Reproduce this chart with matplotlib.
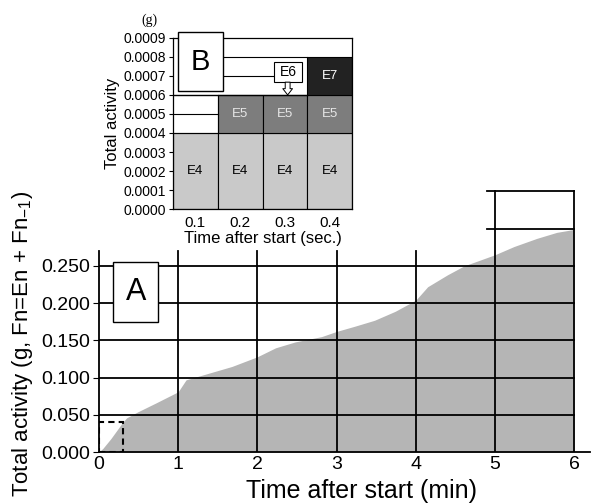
import matplotlib.pyplot as plt
from matplotlib.patches import Rectangle

# panel A: cumulative activity
minutes = [0.0, 0.05, 0.15, 0.30, 0.35, 0.49, 0.72, 1.0, 1.1, 1.39, 1.68, 2.0, 2.23, 2.48,
           2.81, 3.0, 3.23, 3.48, 3.74, 4.0, 4.15, 4.40, 4.61, 5.0, 5.24, 5.53, 5.78, 6.0]
activity = [0.0, 0.005, 0.018, 0.040, 0.046, 0.054, 0.066, 0.081, 0.097, 0.106, 0.115, 0.128,
            0.140, 0.148, 0.155, 0.162, 0.169, 0.177, 0.189, 0.204, 0.222, 0.238, 0.250,
            0.265, 0.276, 0.287, 0.295, 0.299]
main_yticks = [0.0, 0.05, 0.10, 0.15, 0.20, 0.25]
main_xticks = [0, 1, 2, 3, 4, 5, 6]

# panel B: stacked increments per 0.1 s
seconds = [0.1, 0.2, 0.3, 0.4]
e4 = [0.0004, 0.0004, 0.0004, 0.0004]
e5 = [0.0, 0.0002, 0.0002, 0.0002]
e7 = [0.0, 0.0, 0.0, 0.0002]
inset_yticks = [i * 0.0001 for i in range(10)]

fill_grey = "#b5b5b5"
e4_grey = "#c9c9c9"
e5_grey = "#7d7d7d"
e7_grey = "#222222"

plt.rcParams['font.family'] = ['Liberation Sans', 'DejaVu Sans']
fig = plt.figure(figsize=(5.96, 5.04), dpi=100)

# ---------------- panel A ----------------
ax = fig.add_axes([0.166, 0.103, 0.824, 0.532])
ax.set_xlim(0, 6.2)
ax.set_ylim(0, 0.36)
ax.fill_between(minutes, activity, 0, color=fill_grey, lw=0, zorder=1)

for y in main_yticks[1:]:
    ax.plot([0, 6], [y, y], color="black", lw=1.3, zorder=2)
for x in main_xticks[1:]:
    top = 0.35 if x >= 5 else 0.27
    ax.plot([x, x], [0, top], color="black", lw=1.3, zorder=2)
for y in [0.30, 0.35]:
    ax.plot([4.9, 6], [y, y], color="black", lw=1.3, zorder=2)

ax.add_patch(Rectangle((0, 0), 0.31, 0.041, fill=False, ls=(0, (3, 2)), lw=1.5,
                       ec="black", zorder=3))
ax.add_patch(Rectangle((0.18, 0.175), 0.57, 0.08, fc="white", ec="black", lw=1.0,
                       zorder=4))
ax.text(0.465, 0.215, "A", fontsize=22, ha="center", va="center", zorder=5)

for s in ["top", "right"]:
    ax.spines[s].set_visible(False)
ax.spines["left"].set_bounds(0, 0.27)
ax.spines["left"].set_linewidth(1.3)
ax.spines["bottom"].set_linewidth(1.3)
ax.set_yticks(main_yticks)
ax.set_yticklabels([f"{v:.3f}" for v in main_yticks])
ax.set_xticks(main_xticks)
ax.tick_params(axis="y", direction="out", length=4, labelsize=14, pad=2)
ax.tick_params(axis="x", length=0, labelsize=14, pad=3)
ax.set_xlabel("Time after start (min)", fontsize=18, labelpad=4)
ax.xaxis.label.set_x(0.535)
ax.set_ylabel("Total activity (g, Fn=En + Fn$_{\\mathregular{-1}}$)", fontsize=16,
              labelpad=5, y=0.405)

# ---------------- panel B ----------------
bx = fig.add_axes([0.290, 0.585, 0.301, 0.340])
bx.set_xlim(0.05, 0.45)
bx.set_ylim(0, 0.0009)
bx.bar(seconds, e4, width=0.1, color=e4_grey, edgecolor="black", lw=0.8, zorder=2)
bx.bar(seconds, e5, width=0.1, bottom=e4, color=e5_grey, edgecolor="black", lw=0.8,
       zorder=2)
bx.bar(seconds[3:], e7[3:], width=0.1, bottom=[0.0006], color=e7_grey,
       edgecolor="black", lw=0.8, zorder=2)

# outline of empty cells
bx.plot([0.05, 0.15], [0.0005, 0.0005], color="black", lw=0.8, zorder=3)
bx.plot([0.05, 0.35], [0.0006, 0.0006], color="black", lw=1.0, zorder=3)
bx.plot([0.15, 0.15], [0.0004, 0.0006], color="black", lw=0.8, zorder=3)
bx.plot([0.16, 0.35], [0.0008, 0.0008], color="black", lw=0.8, zorder=3)
bx.plot([0.16, 0.28], [0.0007, 0.0007], color="black", lw=0.8, zorder=3)

for x, lab, y, c in [(0.1, "E4", 0.0002, "black"), (0.2, "E4", 0.0002, "black"),
                     (0.3, "E4", 0.0002, "black"), (0.4, "E4", 0.0002, "black"),
                     (0.2, "E5", 0.0005, "#e6e6e6"), (0.3, "E5", 0.0005, "#e6e6e6"),
                     (0.4, "E5", 0.0005, "#e6e6e6"), (0.4, "E7", 0.0007, "white")]:
    bx.text(x, y, lab, fontsize=9.5, ha="center", va="center", color=c, zorder=4)

bx.add_patch(Rectangle((0.275, 0.000668), 0.064, 0.000106, fc="white", ec="black",
                       lw=0.8, zorder=5))
bx.text(0.307, 0.000721, "E6", fontsize=10, ha="center", va="center", zorder=6)
bx.annotate("", xy=(0.306, 0.0006), xytext=(0.306, 0.000667),
            arrowprops=dict(arrowstyle="simple,head_width=0.7,head_length=0.45,tail_width=0.35",
                            fc="white", ec="black", lw=0.7, shrinkA=0, shrinkB=0), zorder=6)

bx.add_patch(Rectangle((0.061, 0.00062), 0.10, 0.00031, fc="white", ec="black", lw=1.0,
                       zorder=7, clip_on=False))
bx.text(0.111, 0.000775, "B", fontsize=21, ha="center", va="center", zorder=8)

for s in bx.spines.values():
    s.set_linewidth(0.9)
bx.set_xticks(seconds)
bx.set_yticks(inset_yticks)
bx.set_yticklabels([f"{v:.4f}" for v in inset_yticks])
bx.tick_params(axis="y", direction="out", length=3, labelsize=10, pad=2)
bx.tick_params(axis="x", length=0, labelsize=11, pad=5)
bx.set_xlabel("Time after start (sec.)", fontsize=12, labelpad=1)
bx.set_ylabel("Total activity", fontsize=12, labelpad=2)
bx.text(-0.13, 1.1, "(g)", transform=bx.transAxes, fontsize=10, family="Liberation Serif",
        ha="center", va="center")

fig.savefig("out.png", dpi=100)
